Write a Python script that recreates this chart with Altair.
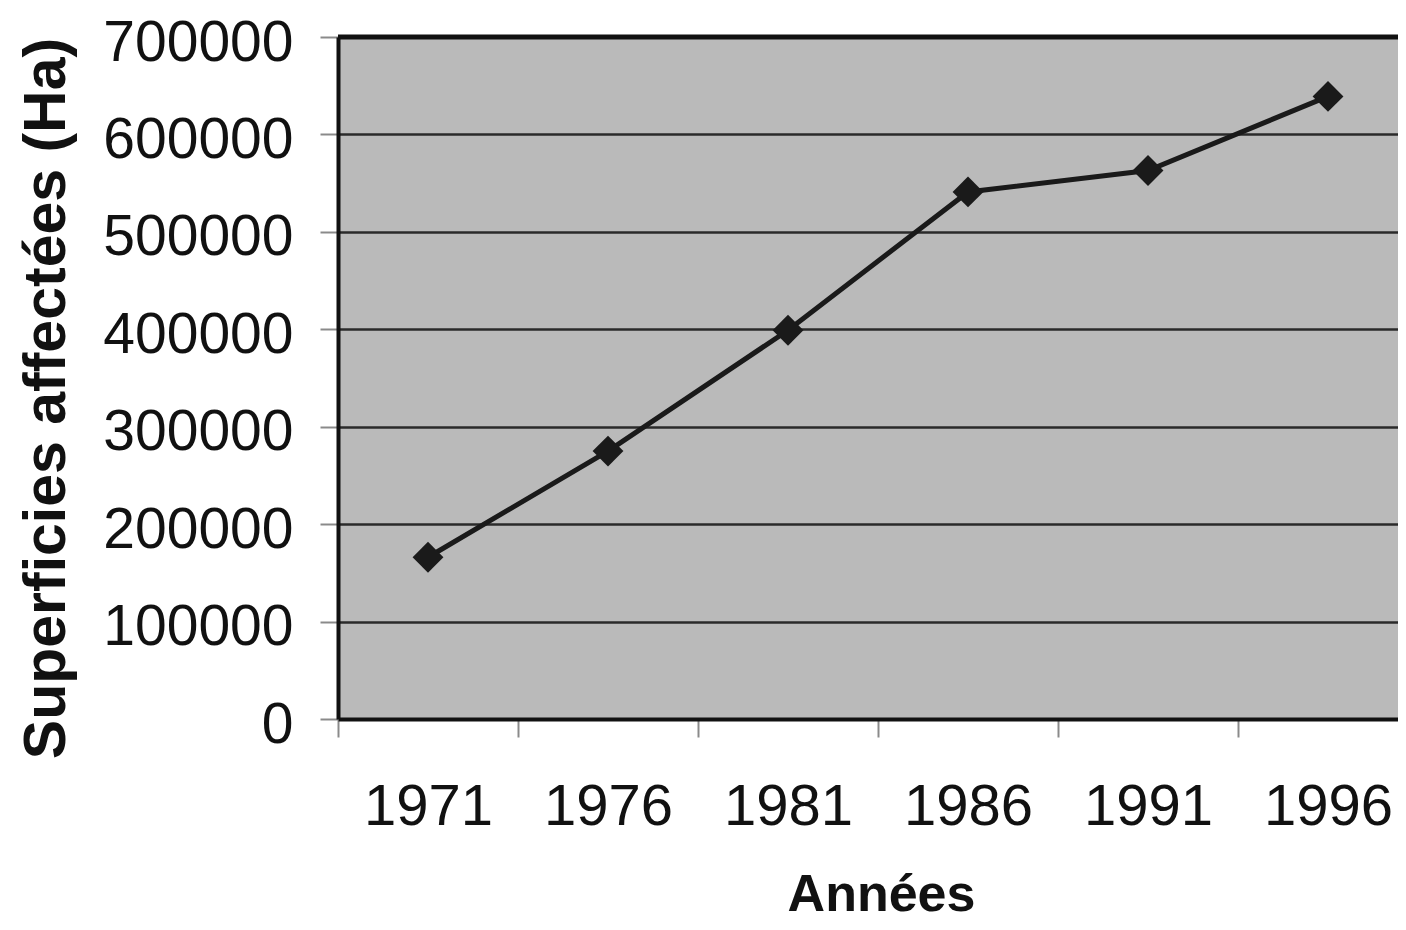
import altair as alt
import pandas as pd

years = [1971, 1976, 1981, 1986, 1991, 1996]
surfaces = [166000, 275000, 399000, 541000, 563000, 639000]
y_ticks = [0, 100000, 200000, 300000, 400000, 500000, 600000, 700000]

df = pd.DataFrame({"annee": years, "surface": surfaces})

FONT = "Liberation Sans"

x_enc = alt.X(
    "annee:Q",
    scale=alt.Scale(domain=[1968.5, 1997.944], nice=False, zero=False),
    axis=alt.Axis(
        values=years,
        format="d",
        title="Années",
        titleFont=FONT,
        titleFontSize=52,
        titleFontWeight="bold",
        titleColor="#111111",
        titleBaseline="alphabetic",
        titleX=543,
        titleY=191,
        labelFont=FONT,
        labelFontSize=58,
        labelColor="#111111",
        labelPadding=41,
        labelOffset=90,
        labelLimit=400,
        labelFlush=False,
        labelOverlap=False,
        tickOffset=-90,
        tickSize=18,
        tickColor="#8a8a8a",
        tickWidth=2,
        domainColor="#111111",
        domainWidth=4,
        grid=False,
    ),
)

y_enc = alt.Y(
    "surface:Q",
    scale=alt.Scale(domain=[0, 700000], nice=False),
    axis=alt.Axis(
        values=y_ticks,
        format="d",
        title="Superficies affectées (Ha)",
        titleFont=FONT,
        titleFontSize=59,
        titleFontWeight="bold",
        titleColor="#111111",
        titleAngle=270,
        titleBaseline="alphabetic",
        titleAlign="center",
        titleX=-274,
        titleY=361,
        titleLimit=1000,
        labelFont=FONT,
        labelFontSize=57,
        labelColor="#111111",
        labelPadding=27,
        labelBaseline="alphabetic",
        labelOffset=23,
        labelLimit=400,
        labelFlush=False,
        tickSize=18,
        tickColor="#8a8a8a",
        tickWidth=2,
        domainColor="#111111",
        domainWidth=4,
        grid=True,
        gridColor="#2a2a2a",
        gridWidth=2.5,
    ),
)

base = alt.Chart(df)

line = base.mark_line(color="#1a1a1a", strokeWidth=5).encode(x=x_enc, y=y_enc)
points = base.mark_point(
    shape="diamond", filled=True, size=950, color="#1a1a1a", opacity=1
).encode(x="annee:Q", y="surface:Q")

top_border = alt.Chart(pd.DataFrame({"v": [y_ticks[-1]]})).mark_rule(
    color="#111111", strokeWidth=5
).encode(y="v:Q")

chart = (
    alt.layer(top_border, line, points)
    .properties(
        width=1060,
        height=682,
        autosize=alt.AutoSizeParams(type="none"),
        padding={"left": 330, "top": 29, "right": 0, "bottom": 202},
        background="white",
    )
    .configure_view(fill="#bababa", stroke=None, strokeWidth=0)
)

chart.save("out.html", embed_options={"renderer": "svg", "actions": False})
